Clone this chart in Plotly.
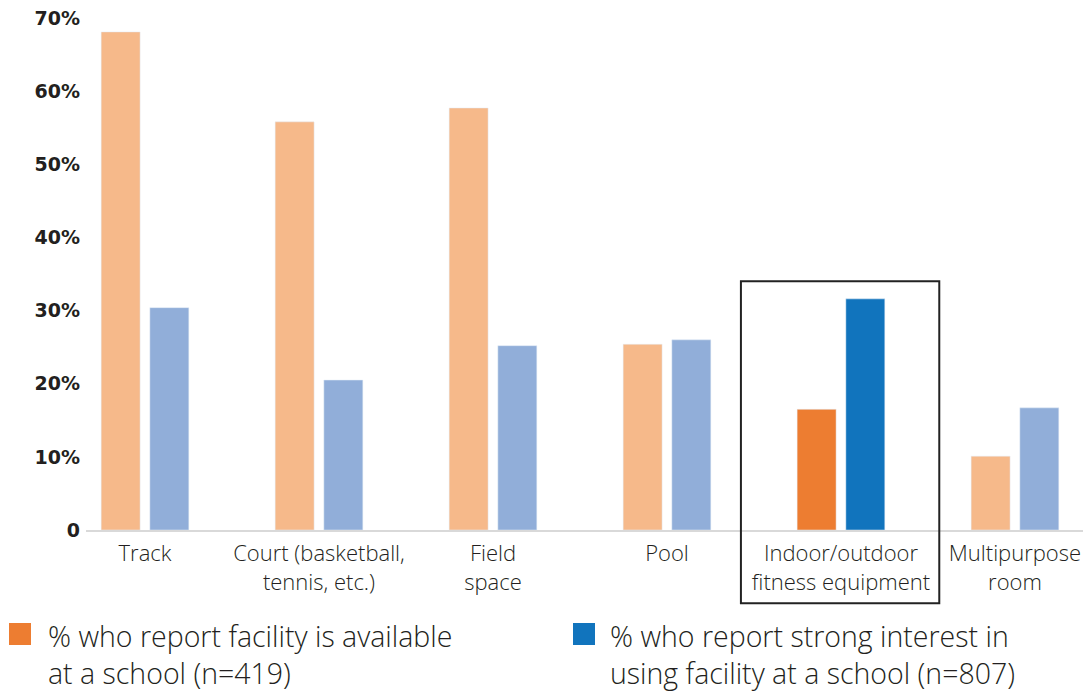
import plotly.graph_objects as go

categories = [
    "Track",
    "Court (basketball,<br>tennis, etc.)",
    "Field<br>space",
    "Pool",
    "Indoor/outdoor<br>fitness equipment",
    "Multipurpose<br>room",
]
available = [68.1, 55.8, 57.7, 25.4, 16.5, 10.1]
interest = [30.4, 20.5, 25.2, 26.0, 31.6, 16.7]
highlight = 4

y_ticks = [0, 10, 20, 30, 40, 50, 60, 70]
y_tick_text = ["0", "10%", "20%", "30%", "40%", "50%", "60%", "70%"]

legend_available = "% who report facility is available<br>at a school (n=419)"
legend_interest = "% who report strong interest in<br>using facility at a school (n=807)"

orange_light = "#F6B98A"
orange = "#ED7D31"
blue_light = "#91AED9"
blue = "#1174BD"

x = list(range(len(categories)))

fig = go.Figure()

fig.add_trace(
    go.Bar(
        x=x,
        y=available,
        marker_color=[orange if i == highlight else orange_light for i in x],
        showlegend=False,
    )
)

fig.add_trace(
    go.Bar(
        x=x,
        y=interest,
        marker_color=[blue if i == highlight else blue_light for i in x],
        showlegend=False,
    )
)

# box around the highlighted category
fig.add_shape(
    type="rect",
    xref="x", yref="paper",
    x0=highlight - 0.575, x1=highlight + 0.565,
    y0=-0.143, y1=0.486,
    line=dict(color="#222222", width=2),
)

# legend drawn by hand (page pixels -> paper coords)
legend_items = [
    (orange, legend_available, 9, 46),
    (blue, legend_interest, 573, 608),
]
for color, text, sq_x, tx_x in legend_items:
    fig.add_shape(
        type="rect",
        xref="paper", yref="paper",
        x0=(sq_x - 86) / 1005, x1=(sq_x + 22 - 86) / 1005,
        y0=(530 - 645) / 512, y1=(530 - 623) / 512,
        fillcolor=color,
        line=dict(width=0),
    )
    fig.add_annotation(
        xref="paper", yref="paper",
        x=(tx_x - 86) / 1005, y=(530 - 615) / 512,
        xanchor="left", yanchor="top",
        text=text,
        showarrow=False,
        align="left",
        font=dict(family="Open Sans", size=28.5, color="#231f20", weight=300),
    )

# page has an 8px body margin, so the figure is 8px smaller
fig.update_layout(
    width=1083,
    height=684,
    margin=dict(l=78, r=0, t=10, b=162),
    plot_bgcolor="white",
    paper_bgcolor="white",
    barmode="group",
    bargap=0.44,
    bargroupgap=0.2,
    font=dict(family="Open Sans", color="#231f20"),
)

fig.update_xaxes(
    tickmode="array",
    tickvals=x,
    ticktext=categories,
    range=[-0.339, 5.437],
    showline=True,
    linecolor="#d9d9d9",
    linewidth=2,
    ticks="",
    showgrid=False,
    automargin=False,
    ticklabelstandoff=3,
    ticklabeloverflow="allow",
    tickfont=dict(family="Open Sans", size=22, color="#231f20", weight=300),
)

fig.update_yaxes(
    range=[0, 70],
    tickmode="array",
    tickvals=y_ticks,
    ticktext=y_tick_text,
    showgrid=False,
    zeroline=False,
    ticks="",
    automargin=False,
    ticklabelstandoff=5,
    ticklabeloverflow="allow",
    tickfont=dict(family="DejaVu Sans", size=19, color="#231f20", weight="bold"),
)

fig.write_html("out.html")
